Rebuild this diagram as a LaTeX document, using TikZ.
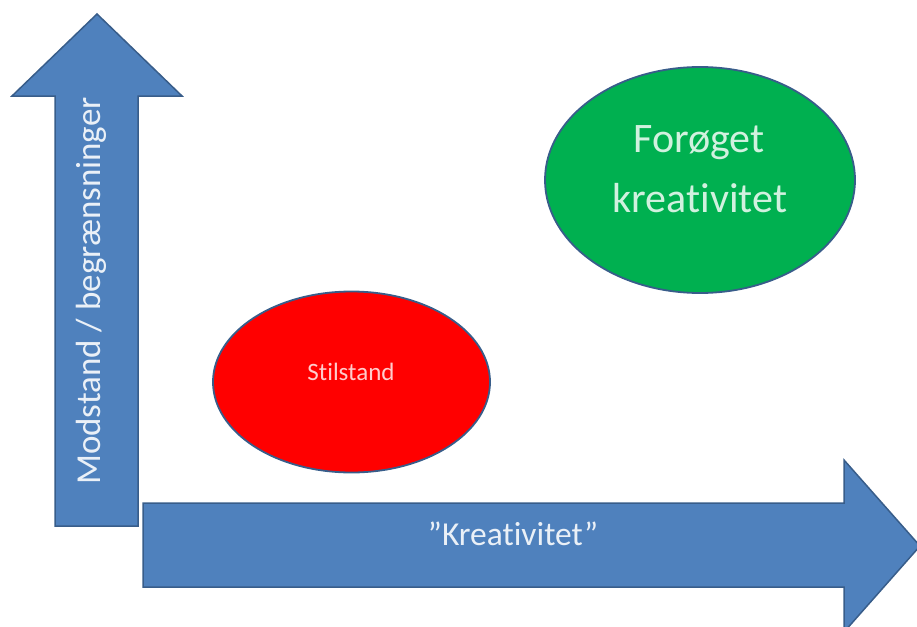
\documentclass[tikz,border=0pt]{standalone}
\usepackage{fontspec}
\setmainfont[Ligatures={NoCommon}]{Carlito}
\usetikzlibrary{shapes.geometric}
\definecolor{arrowblue}{HTML}{4F81BD}
\definecolor{edgeblue}{HTML}{385D8A}
\definecolor{okgreen}{HTML}{00B050}
\definecolor{stopred}{HTML}{FF0000}
\tikzset{
  bigarrow/.style={fill=arrowblue, draw=edgeblue, line width=1.5pt, line join=miter},
  blob/.style={ellipse, draw=edgeblue, line width=1.8pt, inner sep=0pt},
  lbl/.style={anchor=base, inner sep=0pt},
}
\begin{document}
\begin{tikzpicture}[x=1pt, y=-1pt]
\useasboundingbox (0,0) rectangle (917,626);
% vertical arrow
\path[bigarrow] (55,526) -- (55,96) -- (12,96) -- (97,14) -- (182,96) -- (138,96) -- (138,526) -- cycle;
% horizontal arrow
\path[bigarrow] (143,503) -- (844,503) -- (844,460) -- (920,546) -- (844,632) -- (844,587) -- (143,587) -- cycle;
% ellipses
\node[blob, fill=stopred, minimum width=277pt, minimum height=181pt] (stop) at (351.5,382) {};
\node[blob, fill=okgreen, minimum width=310pt, minimum height=226pt] (grow) at (700,180) {};
% labels
\node[lbl, rotate=90, text=white!88!arrowblue, font=\fontsize{35}{42}\selectfont] (ylab) at (100,291) {Modstand / begrænsninger};
\node[lbl, text=white!88!arrowblue, font=\fontsize{33.5}{40}\selectfont] (xlab) at (513,545) {”Kreativitet”};
\node[lbl, text=white!80!stopred, font=\fontsize{25}{30}\selectfont] (stoplab) at (351,380) {Stilstand};
\node[lbl, text=white!82!okgreen, font=\fontsize{42}{50}\selectfont] (growlab1) at (699,152) {Forøget};
\node[lbl, text=white!82!okgreen, font=\fontsize{42}{50}\selectfont] (growlab2) at (700,212) {kreativitet};
\end{tikzpicture}
\end{document}
